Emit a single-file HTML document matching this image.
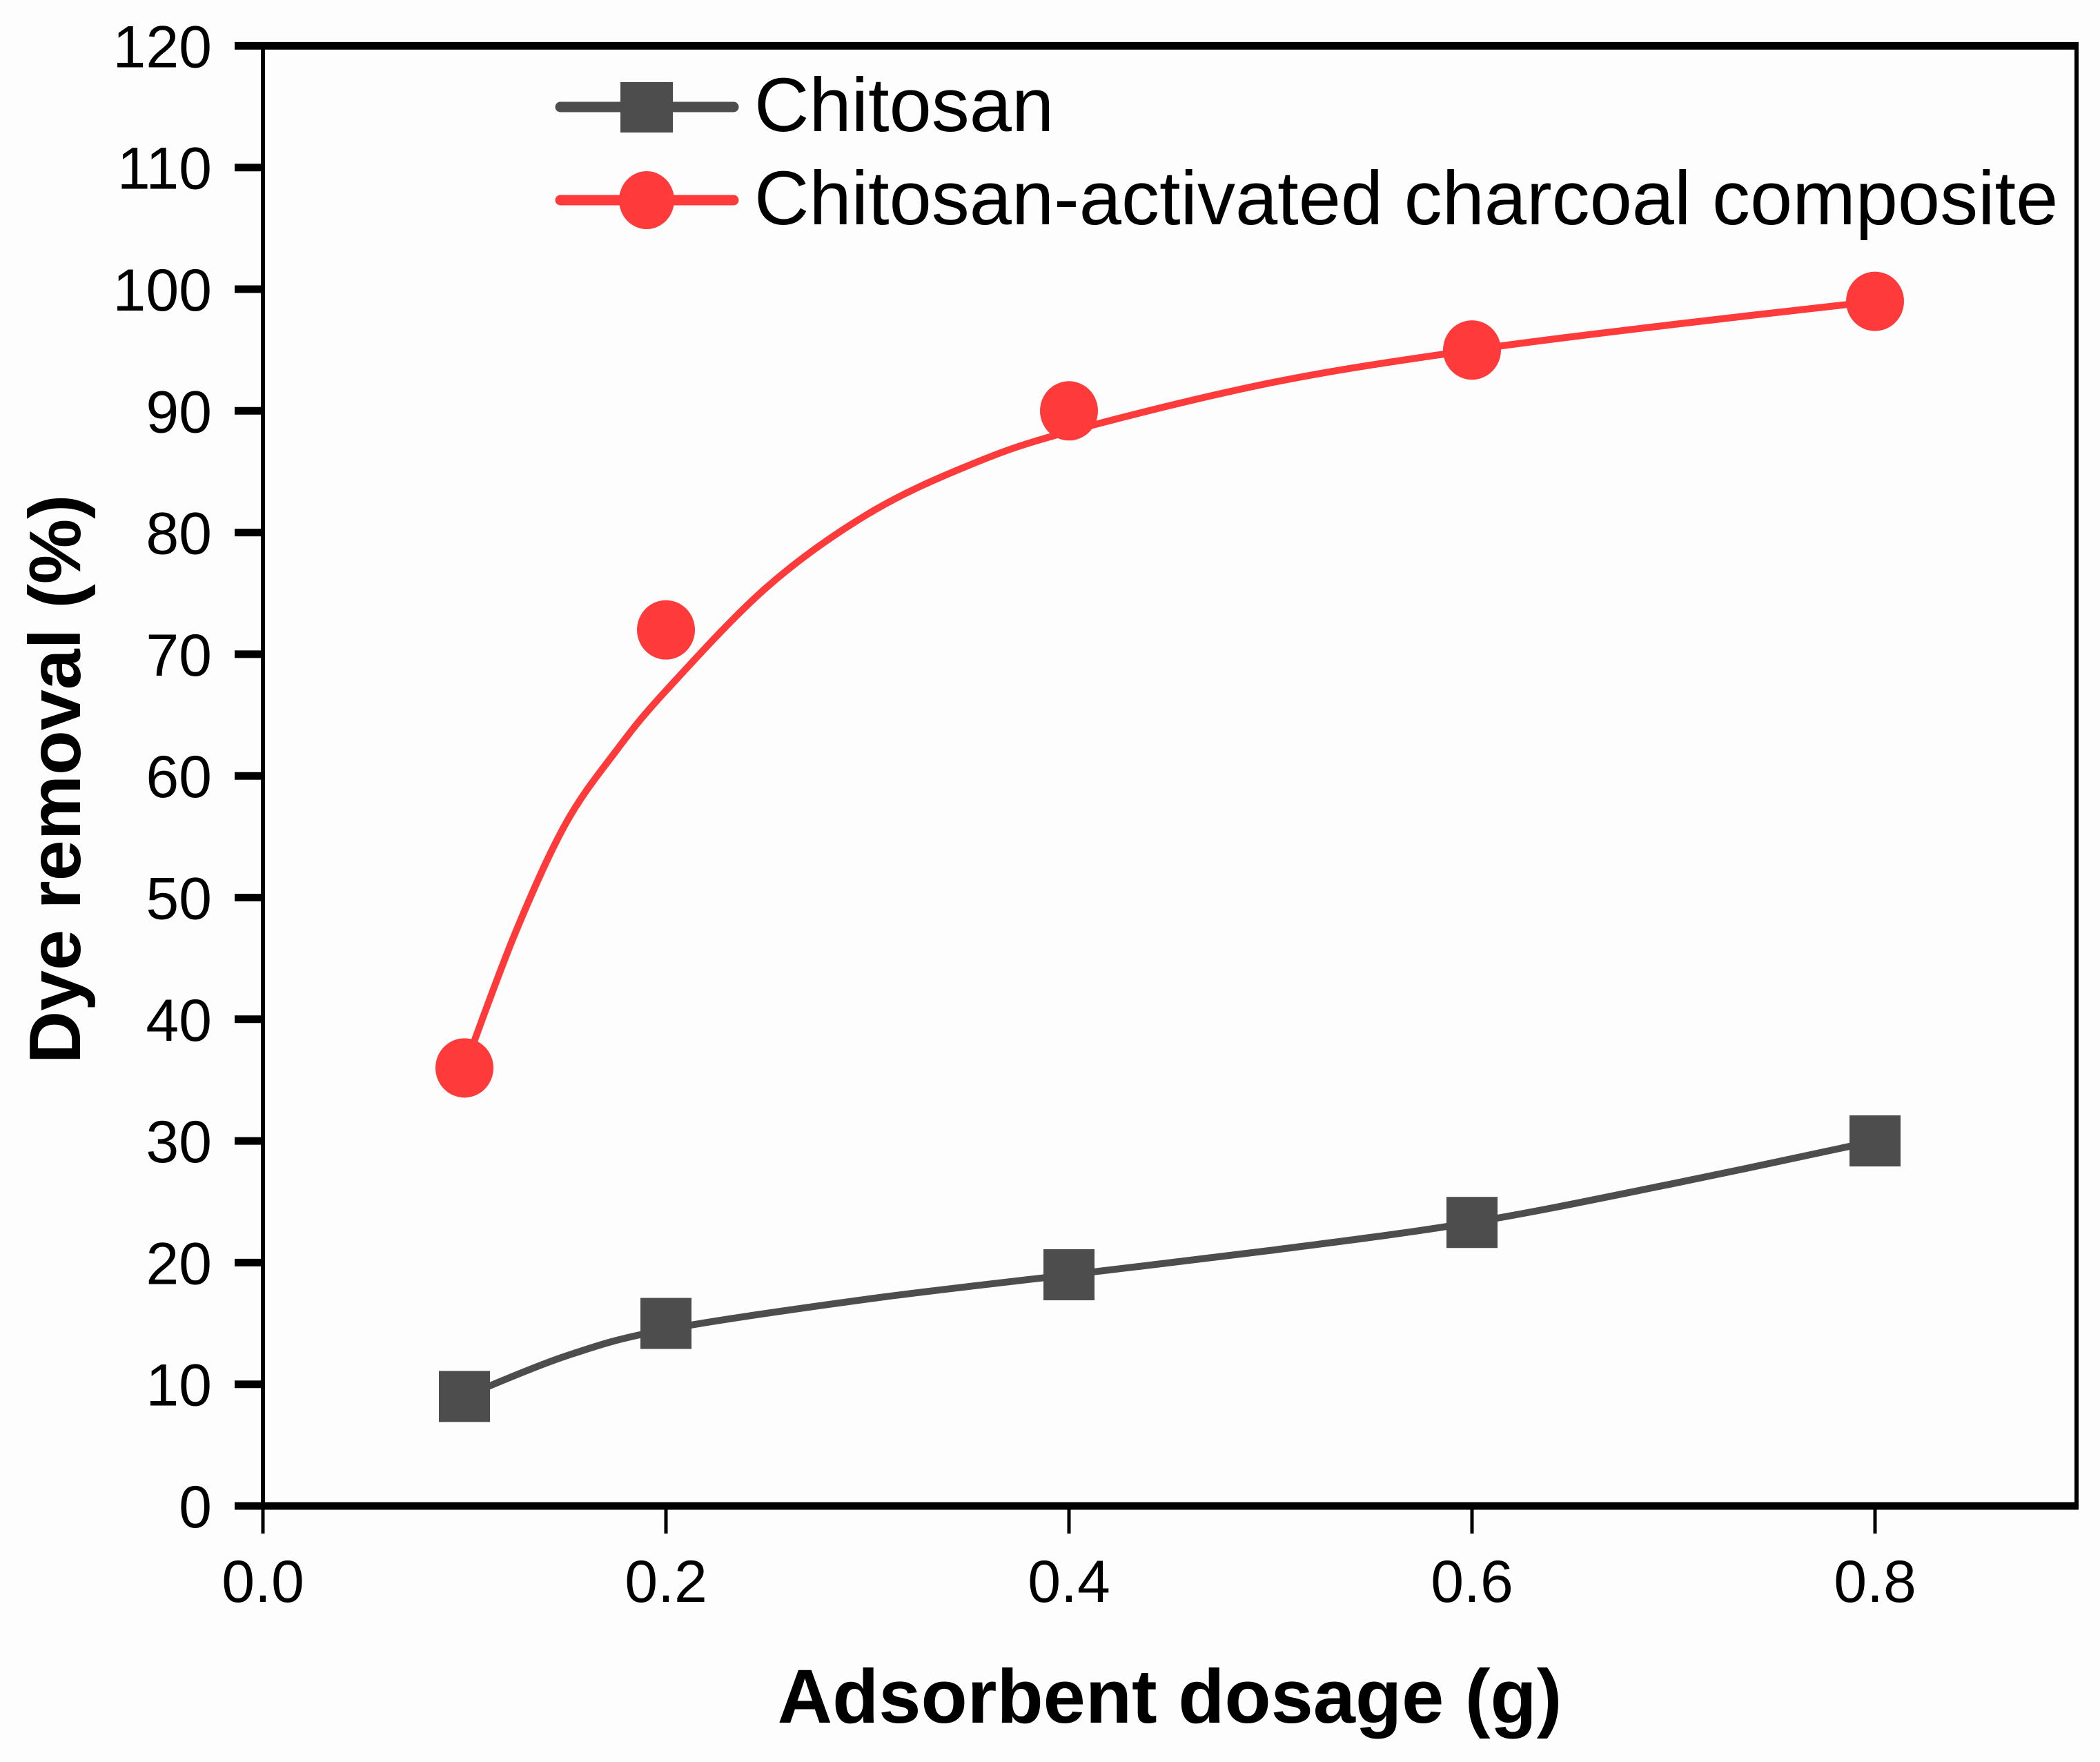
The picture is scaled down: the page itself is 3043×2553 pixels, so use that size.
<!DOCTYPE html>
<html><head><meta charset="utf-8"><style>
html,body{margin:0;padding:0;background:#fdfdfd;}
svg{display:block;font-family:"Liberation Sans",Arial,sans-serif;}
</style></head><body>
<svg id="chart" width="3043" height="2553" viewBox="0 0 3043 2553">
<rect width="3043" height="2553" fill="#fdfdfd"/>
<g id="axes"></g>
<g id="series"></g>
<g id="legend">
  <line x1="812" y1="155" x2="1063" y2="155" stroke="#4d4d4d" stroke-width="15" stroke-linecap="round"/>
  <rect x="899" y="119" width="76" height="73" fill="#4d4d4d"/>
  <text x="1093" y="190" font-size="110" fill="#000">Chitosan</text>
  <line x1="812" y1="290" x2="1063" y2="290" stroke="#ff3a3a" stroke-width="15" stroke-linecap="round"/>
  <ellipse cx="937" cy="290" rx="40" ry="42" fill="#ff3a3a"/>
  <text x="1093" y="325" font-size="110" fill="#000">Chitosan-activated charcoal composite</text>
</g>
<text x="1695" y="2496" font-size="110" font-weight="bold" text-anchor="middle">Adsorbent dosage (g)</text>
<text transform="translate(116,1129) rotate(-90)" font-size="106" font-weight="bold" text-anchor="middle">Dye removal (%)</text>
</svg>
<script>
const xTicks = [0.0, 0.2, 0.4, 0.6, 0.8];
const xTickLabels = ["0.0", "0.2", "0.4", "0.6", "0.8"];
const yTicks = [0, 10, 20, 30, 40, 50, 60, 70, 80, 90, 100, 110, 120];
const dosage = [0.1, 0.2, 0.4, 0.6, 0.8];
const chitosan = [9, 15, 19, 23.3, 30];
const composite = [36, 72, 90, 95, 99];
const chitosanFitX = [0.1, 0.15, 0.2, 0.3, 0.4, 0.5, 0.6, 0.7, 0.8];
const chitosanFitY = [9, 12.3, 14.5, 17, 19, 21, 23.3, 26.5, 30];
const compositeFitX = [0.1, 0.125, 0.15, 0.175, 0.2, 0.25, 0.3, 0.35, 0.4, 0.5, 0.6, 0.7, 0.8];
const compositeFitY = [36, 47, 56, 62, 67, 75.5, 81.5, 85.5, 88.3, 92.3, 95, 97.1, 99];

const NS = "http://www.w3.org/2000/svg";
const X0 = 381, XPER = 2920;
const Y0 = 2182, YPER = 17.63;
function sx(v){ return X0 + v * XPER; }
function sy(v){ return Y0 - v * YPER; }
function mk(tag, attrs, parent){
  const e = document.createElementNS(NS, tag);
  for (const k in attrs) e.setAttribute(k, attrs[k]);
  parent.appendChild(e); return e;
}
const axes = document.getElementById('axes');
const series = document.getElementById('series');
const xRight = sx(0.9), yTop = sy(120);

let e;
e = mk('line',{x1:X0,y1:yTop,x2:xRight+3,y2:yTop,stroke:'#000','stroke-width':11},axes);
 
e = mk('line',{x1:X0-3,y1:Y0,x2:xRight+3,y2:Y0,stroke:'#000','stroke-width':11},axes);
 
e = mk('line',{x1:X0,y1:yTop,x2:X0,y2:Y0,stroke:'#000','stroke-width':6},axes);
 
e = mk('line',{x1:xRight,y1:yTop,x2:xRight,y2:Y0,stroke:'#000','stroke-width':6},axes);
 

xTicks.forEach((v,i)=>{
  const t = mk('line',{x1:sx(v),y1:Y0,x2:sx(v),y2:Y0+40,stroke:'#000','stroke-width':5},axes);
   
  const l = mk('text',{x:sx(v),y:2321,'font-size':86,'text-anchor':'middle'},axes);
  l.textContent = xTickLabels[i];
   
});
yTicks.forEach(v=>{
  const t = mk('line',{x1:X0-41,y1:sy(v),x2:X0,y2:sy(v),stroke:'#000','stroke-width':11},axes);
   
  const l = mk('text',{x:307,y:sy(v)+31,'font-size':86,'text-anchor':'end'},axes);
  l.textContent = String(v);
   
});

function smoothPath(xs, ys){
  const p = xs.map((x,i)=>[sx(x), sy(ys[i])]);
  let d = 'M'+p[0][0]+','+p[0][1];
  for (let i=0;i<p.length-1;i++){
    const p0=p[Math.max(0,i-1)], p1=p[i], p2=p[i+1], p3=p[Math.min(p.length-1,i+2)];
    const c1=[p1[0]+(p2[0]-p0[0])/6, p1[1]+(p2[1]-p0[1])/6];
    const c2=[p2[0]-(p3[0]-p1[0])/6, p2[1]-(p3[1]-p1[1])/6];
    d += ' C'+c1[0]+','+c1[1]+' '+c2[0]+','+c2[1]+' '+p2[0]+','+p2[1];
  }
  return d;
}
e = mk('path',{d:smoothPath(chitosanFitX, chitosanFitY),fill:'none',stroke:'#4d4d4d','stroke-width':10},series);
 
e = mk('path',{d:smoothPath(compositeFitX, compositeFitY),fill:'none',stroke:'#ff3a3a','stroke-width':10},series);
 

dosage.forEach((x,i)=>{
  const s = mk('rect',{x:sx(x)-37,y:sy(chitosan[i])-37,width:74,height:74,fill:'#4d4d4d'},series);
   
  const c = mk('ellipse',{cx:sx(x),cy:sy(composite[i]),rx:42,ry:43,fill:'#ff3a3a'},series);
   
});
</script>
</body></html>
